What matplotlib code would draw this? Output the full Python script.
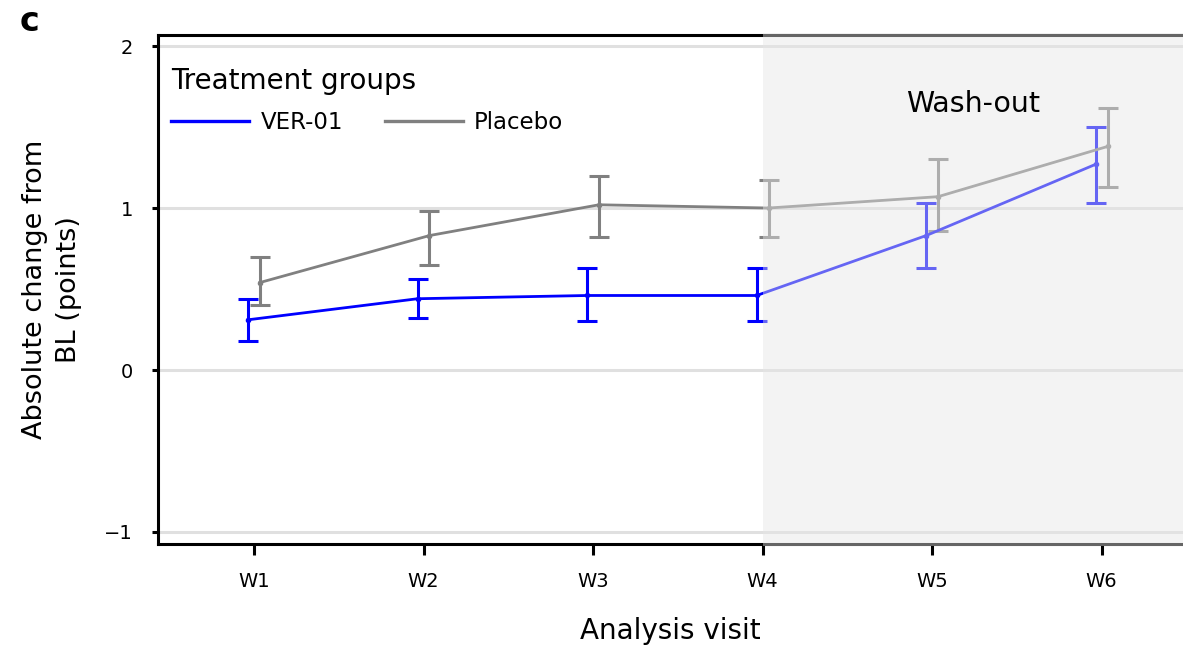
import numpy as np
import matplotlib
matplotlib.use("Agg")
import matplotlib.pyplot as plt
from matplotlib.patches import Rectangle
import matplotlib.transforms as mtransforms

plt.rcParams['font.family'] = ['DejaVu Sans']

# values
visits = ["W1", "W2", "W3", "W4", "W5", "W6"]
ver_mean = [0.31, 0.44, 0.46, 0.46, 0.83, 1.27]
ver_lo = [0.18, 0.32, 0.30, 0.30, 0.63, 1.03]
ver_hi = [0.44, 0.56, 0.63, 0.63, 1.03, 1.50]
pla_mean = [0.54, 0.83, 1.02, 1.00, 1.07, 1.38]
pla_lo = [0.40, 0.65, 0.82, 0.82, 0.86, 1.13]
pla_hi = [0.70, 0.98, 1.20, 1.17, 1.30, 1.62]

x = np.arange(1, len(visits) + 1)
dodge = 0.035

fig = plt.figure(figsize=(11.83, 6.51), dpi=100)
ax = fig.add_axes([0.1336, 0.1644, 0.8664, 0.7818])

for y in [-1, 0, 1, 2]:
    ax.axhline(y, color="#e0e0e0", lw=2.2, zorder=0)

def draw(mean, lo, hi, color, off):
    mean = np.array(mean)
    err = np.vstack([mean - np.array(lo), np.array(hi) - mean])
    ax.errorbar(x + off, mean, yerr=err, color=color, lw=2.0, elinewidth=2.2,
                capsize=7, capthick=2.2, marker="o", markersize=3, zorder=3)

draw(pla_mean, pla_lo, pla_hi, "#808080", dodge)
draw(ver_mean, ver_lo, ver_hi, "#0000ff", -dodge)
ax.plot([], [], color="#0000ff", lw=2.4, label="VER-01")
ax.plot([], [], color="#808080", lw=2.4, label="Placebo")

ax.set_xlim(0.434, 6.48)
ax.set_ylim(-1.074, 2.068)
ax.set_xticks(x)
ax.set_xticklabels(visits)
ax.set_yticks([-1, 0, 1, 2])

for side in ["left", "bottom", "top"]:
    ax.spines[side].set_linewidth(2.2)
    ax.spines[side].set_color("black")
ax.spines["right"].set_visible(False)
ax.tick_params(axis="x", length=8, width=2.2, labelsize=14, pad=12)
ax.tick_params(axis="y", length=4, width=2.2, labelsize=14, pad=14)

ax.set_xlabel("Analysis visit", fontsize=20, labelpad=19)
ax.set_ylabel("Absolute change from\nBL (points)", fontsize=19.5, labelpad=16,
              linespacing=1.4)

# wash-out overlay
trans = mtransforms.blended_transform_factory(ax.transData, ax.transAxes)
ax.add_patch(Rectangle((4, -0.004), 3, 1.008, transform=trans,
                       facecolor=(230/255, 230/255, 230/255), alpha=0.443,
                       edgecolor="none", zorder=10, clip_on=False))
ax.text(5.24, 1.645, "Wash-out", fontsize=20.5, ha="center", va="center", zorder=11)

leg = ax.legend(loc="upper left", bbox_to_anchor=(-0.007, 0.978), ncol=2,
                frameon=False, title="Treatment groups", fontsize=16.5,
                title_fontsize=20, handlelength=3.4, handletextpad=0.5,
                columnspacing=1.8, alignment="left", labelspacing=0.7)

fig.text(0.025, 0.967, "c", fontsize=24, fontweight="bold", ha="center", va="center")

fig.savefig("out.png", dpi=100)
